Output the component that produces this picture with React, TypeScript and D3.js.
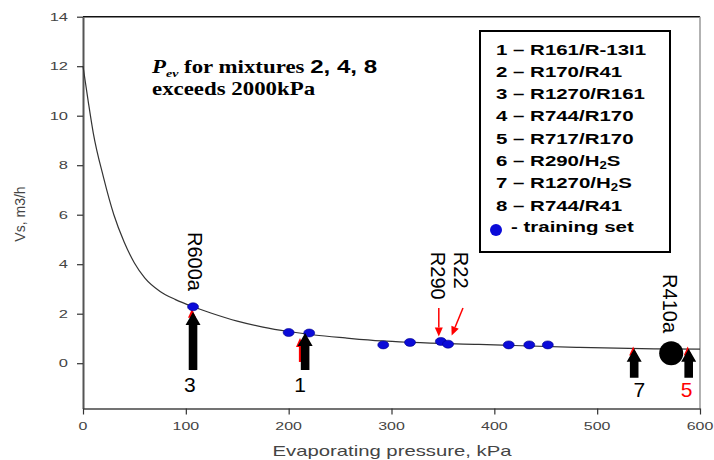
import React, { useEffect, useRef } from 'react';
import * as d3 from 'd3';

// fitted curve
const curveP = [0, 5, 10, 20, 30, 40, 50, 60, 75, 90, 107, 125, 150, 175, 200, 225, 255, 290, 320, 385, 480, 555, 600];
const curveV = [12, 10.6, 9.3, 7.5, 6.0, 4.9, 4.05, 3.45, 2.9, 2.57, 2.28, 2.02, 1.7, 1.46, 1.28, 1.14, 1.02, 0.9, 0.84, 0.76, 0.64, 0.58, 0.57];

// training set points
const trainP = [107, 200, 220, 292, 318, 348, 355, 414, 434, 452];
const trainV = [2.28, 1.24, 1.22, 0.74, 0.84, 0.88, 0.77, 0.74, 0.74, 0.74];

const yTicks = [0, 2, 4, 6, 8, 10, 12, 14];
const xTicks = [0, 100, 200, 300, 400, 500, 600];

const legendItems = [
  '1 – R161/R-13I1',
  '2 – R170/R41',
  '3 – R1270/R161',
  '4 – R744/R170',
  '5 – R717/R170',
  '6 – R290/H2S',
  '7 – R1270/H2S',
  '8 – R744/R41',
];

// mixture arrows
const arrowLabels = ['3', '1', '7', '5'];
const arrowColors = ['black', 'black', 'black', 'red'];
const arrowP = [107, 216, 536, 589];
const arrowTip = [2.07, 1.22, 0.58, 0.58];
const arrowBase = [-0.27, -0.27, -0.59, -0.59];
const labelP = [104, 211, 541, 587];
const labelV = [-1.17, -1.17, -1.37, -1.37];

// red arrows hidden behind the black ones
const redP = [106, 211, 535, 588];
const redTip = [2.2, 1.02, 0.68, 0.68];
const redBase = [0.6, 0.05, 0.2, 0.2];

// refrigerant labels (rotated)
const refNames = ['R600a', 'R290', 'R22', 'R410a'];
const refP = [109, 345, 368, 571];
const refV = [5.3, 4.5, 4.5, 3.6];

// red pointers for R290 / R22
const ptrFromP = [346, 369.5];
const ptrFromV = [2.23, 2.23];
const ptrToP = [346, 358.5];
const ptrToV = [1.08, 1.12];

const r410aP = 572;
const r410aV = 0.4;

const App = () => {
  const ref = useRef<SVGSVGElement>(null);
  const width = 714;
  const height = 460;
  const margin = { top: 16.7, right: 14, bottom: 51.5, left: 83 };

  useEffect(() => {
    const svg = d3.select(ref.current);
    svg.selectAll('*').remove();

    const x = d3.scaleLinear().domain([0, 600]).range([margin.left, width - margin.right]);
    const y = d3.scaleLinear().domain([-1.83, 14]).range([height - margin.bottom, margin.top]);

    const txt = (g: any, px: number, py: number, s: string, opts: any = {}) => {
      const sx = opts.sx ?? 1;
      const rot = opts.rot ?? 0;
      return g.append('text')
        .attr('transform', `translate(${px},${py}) rotate(${rot}) scale(${sx},1)`)
        .attr('text-anchor', opts.anchor ?? 'start')
        .attr('font-family', opts.family ?? 'Liberation Sans, Arial, sans-serif')
        .attr('font-size', opts.size ?? 12)
        .attr('font-weight', opts.weight ?? 'normal')
        .attr('fill', opts.fill ?? 'black')
        .attr('dominant-baseline', opts.baseline ?? 'auto')
        .text(s);
    };

    // frame: top and right
    svg.append('line')
      .attr('x1', x(0)).attr('x2', x(600)).attr('y1', y(14)).attr('y2', y(14))
      .attr('stroke', '#111').attr('stroke-width', 1.5);
    svg.append('line')
      .attr('x1', x(600)).attr('x2', x(600)).attr('y1', y(14)).attr('y2', y(-1.83))
      .attr('stroke', '#999').attr('stroke-width', 1.5);

    // axes
    const yAxis = svg.append('g')
      .attr('transform', `translate(${margin.left},0)`)
      .call(d3.axisLeft(y).tickValues(yTicks).tickSize(6).tickSizeOuter(0).tickFormat(() => ''));
    yAxis.select('.domain').attr('stroke', '#555').attr('stroke-width', 2);
    yAxis.selectAll('.tick line').attr('stroke', '#333').attr('stroke-width', 1.2);

    const xAxis = svg.append('g')
      .attr('transform', `translate(0,${height - margin.bottom})`)
      .call(d3.axisBottom(x).tickValues(xTicks).tickSize(6).tickSizeOuter(0).tickFormat(() => ''));
    xAxis.select('.domain').attr('stroke', '#444').attr('stroke-width', 1.5);
    xAxis.selectAll('.tick line').attr('stroke', '#333').attr('stroke-width', 1.2);

    yTicks.forEach(t => txt(svg, margin.left - 15, y(t) + 4, String(t), { anchor: 'end', size: 11, sx: 1.5, fill: '#444' }));
    xTicks.forEach(t => txt(svg, x(t), 430, String(t), { anchor: 'middle', size: 11, sx: 1.45, fill: '#444' }));

    txt(svg, 392, 456, 'Evaporating pressure, kPa', { anchor: 'middle', size: 14, sx: 1.45, fill: '#444' });
    txt(svg, 25, 214, 'Vs, m3/h', { anchor: 'middle', size: 14, rot: -90, fill: '#444' });

    // curve
    const pts: [number, number][] = curveP.map((p, i) => [p, curveV[i]]);
    svg.append('path')
      .datum(pts)
      .attr('fill', 'none')
      .attr('stroke', '#333')
      .attr('stroke-width', 1.2)
      .attr('d', d3.line<[number, number]>().x(d => x(d[0])).y(d => y(d[1])).curve(d3.curveMonotoneX));

    // red arrows behind
    const thinArrow = (x1: number, y1: number, x2: number, y2: number, w: number) => {
      const a = Math.atan2(y2 - y1, x2 - x1);
      const hl = 9, hw = 4;
      const bx = x2 - hl * Math.cos(a), by = y2 - hl * Math.sin(a);
      svg.append('line').attr('x1', x1).attr('y1', y1).attr('x2', bx).attr('y2', by)
        .attr('stroke', 'red').attr('stroke-width', w);
      svg.append('path')
        .attr('d', `M${x2},${y2} L${bx + hw * Math.sin(a)},${by - hw * Math.cos(a)} L${bx - hw * Math.sin(a)},${by + hw * Math.cos(a)} Z`)
        .attr('fill', 'red');
    };
    redP.forEach((p, i) => thinArrow(x(p), y(redBase[i]), x(p), y(redTip[i]), 2.2));
    ptrFromP.forEach((p, i) => thinArrow(x(p), y(ptrFromV[i]), x(ptrToP[i]), y(ptrToV[i]), 1.5));

    // training set points
    svg.append('g').selectAll('ellipse')
      .data(trainP.map((p, i) => [p, trainV[i]]))
      .enter().append('ellipse')
      .attr('cx', d => x(d[0]))
      .attr('cy', d => y(d[1]))
      .attr('rx', 5.5)
      .attr('ry', 4)
      .attr('fill', '#0b0bd8')
      .attr('stroke', '#00008a')
      .attr('stroke-width', 0.6);

    // R410a
    svg.append('circle').attr('cx', x(r410aP)).attr('cy', y(r410aV)).attr('r', 12).attr('fill', 'black');

    // black block arrows
    const block = (cx: number, tip: number, base: number) => {
      const sw = 4.3, hw = 7.5, hh = 13;
      return `M${cx - sw},${base} L${cx - sw},${tip + hh} L${cx - hw},${tip + hh} L${cx},${tip} L${cx + hw},${tip + hh} L${cx + sw},${tip + hh} L${cx + sw},${base} Z`;
    };
    arrowP.forEach((p, i) => {
      svg.append('path').attr('d', block(x(p), y(arrowTip[i]), y(arrowBase[i]))).attr('fill', 'black');
      txt(svg, x(labelP[i]), y(labelV[i]), arrowLabels[i], { anchor: 'middle', size: 21, fill: arrowColors[i], family: 'Liberation Sans Narrow, Liberation Sans, Arial, sans-serif' });
    });

    // rotated refrigerant labels
    refNames.forEach((n, i) => {
      txt(svg, x(refP[i]), y(refV[i]), n, { rot: 90, size: 20, baseline: 'central' });
    });

    // note
    const note = svg.append('text')
      .attr('transform', `translate(152,73) scale(1.27,1)`)
      .attr('font-family', 'Liberation Serif, Times New Roman, serif')
      .attr('font-weight', 'bold')
      .attr('font-size', 18);
    note.append('tspan').attr('font-style', 'italic').text('P');
    note.append('tspan').attr('font-style', 'italic').attr('font-size', 11).attr('dy', 4).text('ev');
    note.append('tspan').attr('dy', -4).text(' for mixtures ');
    note.append('tspan').attr('font-family', 'Liberation Sans, Arial, sans-serif').attr('font-size', 19).text('2, 4, 8');
    txt(svg, 152, 95, 'exceeds 2000kPa', { size: 18, sx: 1.27, weight: 'bold', family: 'Liberation Serif, Times New Roman, serif' });

    // legend
    const lg = svg.append('g');
    lg.append('rect').attr('x', 480).attr('y', 31).attr('width', 190).attr('height', 221)
      .attr('fill', 'white').attr('stroke', 'black').attr('stroke-width', 2);
    legendItems.forEach((s, i) => {
      const t = lg.append('text')
        .attr('transform', `translate(496,${54.5 + i * 22.3}) scale(1.32,1)`)
        .attr('font-family', 'Liberation Sans, Arial, sans-serif')
        .attr('font-weight', 'bold')
        .attr('font-size', 15.5);
      const parts = s.split('H2S');
      if (parts.length > 1) {
        t.append('tspan').text(parts[0] + 'H');
        t.append('tspan').attr('font-size', 10).attr('dy', 3).text('2');
        t.append('tspan').attr('dy', -3).text('S');
      } else {
        t.text(s);
      }
    });
    lg.append('circle').attr('cx', 496).attr('cy', 230).attr('r', 6).attr('fill', '#0b0bd8');
    lg.append('text')
      .attr('transform', `translate(511,232) scale(1.32,1)`)
      .attr('font-family', 'Liberation Sans, Arial, sans-serif')
      .attr('font-weight', 'bold')
      .attr('font-size', 15.5)
      .text('-  training set');
  }, []);

  return (
    <svg ref={ref} width={width} height={height}
      style={{ position: 'absolute', left: 0, top: 0, background: 'white' }} />
  );
};

export default App;
